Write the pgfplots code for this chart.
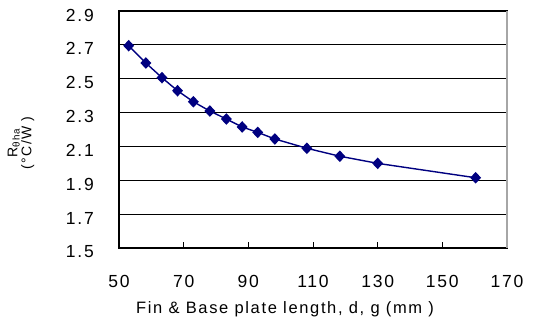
\documentclass[border=0pt]{standalone}
\usepackage{pgfplots}
\pgfplotsset{compat=1.18}
\usepackage{fontspec}
\setmainfont{Liberation Sans}
\newfontfamily\spaced[LetterSpace=10]{Liberation Sans}
\definecolor{navyline}{RGB}{0,0,128}
\begin{document}
\begin{tikzpicture}
\begin{axis}[
  scale only axis, width=388pt, height=237pt,
  xmin=50, xmax=170, ymin=1.5, ymax=2.9,
  xtick={50,70,90,110,130,150,170},
  ytick={1.5,1.7,1.9,2.1,2.3,2.5,2.7,2.9},
  /pgf/number format/assume math mode=true,
  y tick label style={/pgf/number format/fixed, /pgf/number format/fixed zerofill, /pgf/number format/precision=1},
  ticklabel style={font=\spaced\fontsize{17.5}{20}\selectfont, inner sep=0pt},
  xticklabel style={anchor=center, yshift=-33pt},
  yticklabel style={anchor=east, xshift=-25pt, yshift=-4pt},
  ymajorgrids, grid style={black, line width=1.2pt},
  tick align=inside, major tick length=6pt,
  tick style={black, line width=0.9pt},
  xtick pos=bottom, ytick pos=left,
  axis line style={line width=1.2pt},
  xlabel={Fin \& Base plate length, d, g (mm )},
  every axis x label/.style={at={(rel axis cs:0.428,0)}, anchor=center, yshift=-61pt,
     font=\spaced\fontsize{16.5}{19}\selectfont},
  ylabel={R\textsubscript{θha}\\(°C/W )},
  every axis y label/.style={at={(rel axis cs:0,0.443)}, anchor=center, xshift=-98pt,
     rotate=90, align=center, font=\spaced\fontsize{14}{14}\selectfont},
  clip=false,
]
\addplot[color=navyline, line width=1.4pt, mark=diamond*, mark size=4.8pt,
  mark options={fill=navyline, draw=navyline, xscale=1.25}]
  coordinates {
  (53.0,2.695) (58.3,2.593) (63.3,2.506) (68.1,2.429) (73.0,2.364)
  (78.1,2.309) (83.2,2.262) (88.1,2.215) (92.9,2.183) (98.2,2.144)
  (108.1,2.089) (118.3,2.042) (130.0,2.000) (160.3,1.915)
  };
\draw[gray!70, line width=1.2pt] (rel axis cs:1,0) -- (rel axis cs:1,1);
\end{axis}
\path ([xshift=-119pt,yshift=-74pt]current axis.south west) rectangle ([xshift=26pt,yshift=11pt]current axis.north east);
\end{tikzpicture}
\end{document}
